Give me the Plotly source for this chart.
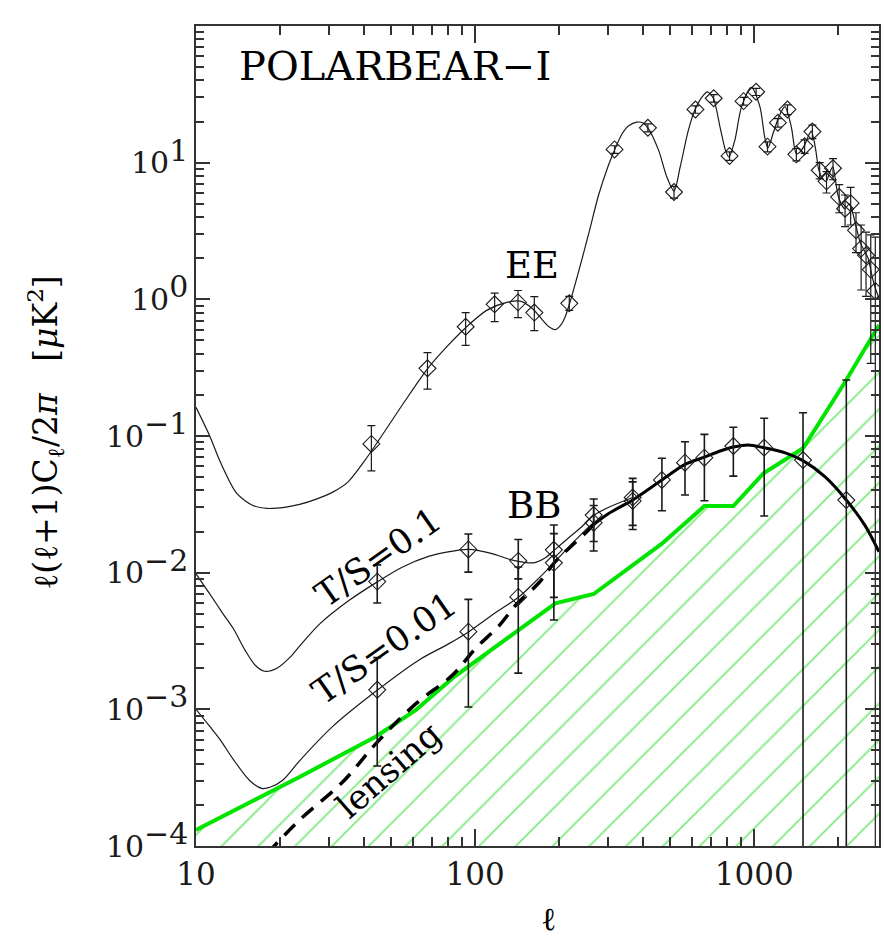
import math
import plotly.graph_objects as go

# ---------------- EE band powers (multipole, value, upper, lower) ----------------
ee_ell = [42.5, 67.5, 92.5, 117.5, 142.5, 163, 217.5, 316, 416, 516, 616, 716, 816,
          916, 1016, 1116, 1216, 1316, 1416, 1516, 1616, 1716, 1816, 1916, 2016, 2116,
          2216, 2316, 2416, 2516, 2616, 2716]
ee_val = [0.0875, 0.313, 0.63, 0.92, 0.95, 0.80, 0.935, 12.5, 18.0, 6.1, 24.5, 29.6, 11.2,
          28.2, 33.0, 13.1, 19.6, 24.5, 11.5, 13.2, 16.9, 8.8, 7.3, 9.1, 5.6, 4.6,
          5.05, 3.2, 2.35, 2.1, 1.65, 1.15]
ee_hi = [0.119, 0.407, 0.80, 1.11, 1.16, 1.045, 1.05, 13.3, 19.2, 6.7, 26.0, 31.5, 12.0,
         30.0, 35.0, 14.2, 21.0, 26.5, 12.7, 14.7, 18.8, 10.0, 8.6, 10.7, 6.9, 5.8,
         6.6, 4.3, 3.5, 3.1, 2.96, 2.85]
ee_lo = [0.0555, 0.22, 0.46, 0.686, 0.735, 0.59, 0.83, 11.7, 16.8, 5.5, 23.0, 27.7, 10.4,
         26.4, 31.0, 12.0, 18.2, 22.5, 10.3, 11.7, 15.0, 7.6, 6.0, 7.5, 4.3, 3.4,
         3.5, 2.2, 1.17, 1.05, 0.34, 0.0]

# ---------------- BB band powers ----------------
bb_lo_ell = [44.6, 94.6, 142.8, 191.5, 266, 367]
# T/S = 0.1 model
bb01_val = [0.0086, 0.0148, 0.0122, 0.0147, 0.0264, 0.0355]
bb01_hi = [0.0114, 0.0192, 0.0175, 0.0223, 0.0346, 0.049]
bb01_lo = [0.0060, 0.0101, 0.0090, 0.0066, 0.0169, 0.0222]
# T/S = 0.01 model
bb001_val = [0.00139, 0.0037, 0.00665, 0.0118, 0.0232, 0.0335]
bb001_hi = [0.00239, 0.00638, 0.0110, 0.0193, 0.031, 0.0462]
bb001_lo = [0.000385, 0.00104, 0.00184, 0.0045, 0.0144, 0.0207]
# lensing-dominated bins
bb_hi_ell = [467, 565, 663, 842, 1086, 1496, 2138]
bb_hi_val = [0.0477, 0.0638, 0.0694, 0.0845, 0.0822, 0.0667, 0.034]
bb_hi_hi = [0.0687, 0.0908, 0.1028, 0.116, 0.135, 0.148, 0.257]
bb_hi_lo = [0.0284, 0.037, 0.0336, 0.0509, 0.026, 0.0, 0.0]

# ---------------- model spectra ----------------
ee_th_ell = [10, 11.2, 12.2, 14, 16, 18, 21, 23.5, 27, 31, 35, 40, 45, 55, 67.5, 80, 92.5,
             110, 130, 145, 160, 170, 184, 194, 203, 210, 218, 235, 255, 277, 300, 316,
             336, 355, 380, 400, 416, 454, 486, 516, 543, 581, 614, 658, 680, 714, 754, 790,
             812, 853, 901, 977, 1048, 1090, 1120, 1169, 1230, 1288, 1358, 1416, 1460,
             1517, 1560, 1602, 1660, 1703, 1760, 1811, 1860, 1914, 1960, 1995, 2050,
             2109, 2195, 2260, 2320, 2400, 2500, 2560, 2650, 2720, 2800]
ee_th_val = [0.162, 0.10, 0.065, 0.038, 0.031, 0.0295, 0.0302, 0.0316, 0.0345, 0.039, 0.046,
             0.065, 0.092, 0.17, 0.31, 0.46, 0.62, 0.83, 0.95, 0.97, 0.86, 0.75, 0.63, 0.60,
             0.65, 0.74, 0.93, 1.6, 3.0, 5.8, 9.5, 12.4, 16.2, 18.6, 19.8, 19.5, 18.0, 12.4,
             7.9, 6.2, 9.3, 17.3, 24.5, 31.2, 33.0, 29.6, 18.3, 12.2, 11.0, 14.7, 25.7,
             35.6, 25.7, 15.5, 12.8, 16.4, 22.0, 25.7, 18.3, 11.6, 12.0, 13.5, 15.5,
             17.0, 12.5, 8.9, 7.6, 7.3, 8.4, 9.3, 7.2, 5.8, 5.0, 4.6, 5.0, 4.2, 3.4,
             2.6, 2.2, 2.0, 1.45, 1.2, 1.02]

bb01_th_ell = [10, 11.2, 12.5, 13.6, 15, 16.3, 17.6, 19.5, 21.7, 23.5, 27.7, 35.5, 44.8, 55,
               68.5, 80, 95, 115, 130, 143, 155, 165, 178, 191.5, 215, 240, 266, 300, 367]
bb01_th_val = [0.0098, 0.0070, 0.0050, 0.0039, 0.0027, 0.0021, 0.0019, 0.0020, 0.0024,
               0.0029, 0.0042, 0.0063, 0.0086, 0.011, 0.0132, 0.0142, 0.0148, 0.0138,
               0.0127, 0.0121, 0.0118, 0.0119, 0.0128, 0.0145, 0.0178, 0.0215, 0.0262,
               0.0300, 0.0355]

bb001_th_ell = [10, 11.2, 12.2, 13.6, 15.6, 17.2, 18.5, 20.5, 23.5, 30.9, 44.8, 63, 80, 95,
                120, 143, 170, 191.5, 230, 266, 300, 367]
bb001_th_val = [0.001, 0.00075, 0.0006, 0.00043, 0.0003, 0.000264, 0.00027, 0.000304,
                0.00042, 0.00075, 0.00139, 0.0023, 0.003, 0.0037, 0.0052, 0.0066, 0.0092,
                0.0118, 0.0175, 0.0232, 0.027, 0.0335]

lens_ell = [18, 23.5, 33.6, 44.2, 61.4, 83, 100.6, 122, 140, 169, 191.5, 220, 248, 266,
            300, 367, 467, 565, 663, 760, 842, 950, 1086, 1300, 1496, 1800, 2138, 2500, 2800]
lens_val = [0.000088, 0.000155, 0.000295, 0.000564, 0.0011, 0.00178, 0.0028, 0.0041,
            0.0058, 0.0084, 0.0117, 0.0155, 0.0194, 0.0225, 0.027, 0.034, 0.0477, 0.062,
            0.070, 0.078, 0.083, 0.086, 0.082, 0.075, 0.066, 0.050, 0.034, 0.022, 0.0142]
lens_split = 13  # dashed up to ell = 266, solid beyond

noise_ell = [10, 23.5, 44, 61.4, 83, 143, 194, 266, 467, 663, 842, 1080, 1496, 2138, 2800]
noise_val = [0.000131, 0.00032, 0.00063, 0.00099, 0.00169, 0.0038, 0.00597, 0.00698,
             0.0163, 0.0307, 0.0307, 0.0533, 0.0813, 0.257, 0.65]

# ---------------- styling ----------------
SERIF = "DejaVu Serif"
INK = "#1a1a1a"
AXIS = "#333333"
GREEN = "#00e400"
HATCH = "#1fd81f"


def err_arrays(val, hi, lo):
    return [h - v for v, h in zip(val, hi)], [v - l for v, l in zip(val, lo)]


fig = go.Figure()

# noise level with hatched region below it
fig.add_trace(go.Scatter(
    x=noise_ell, y=noise_val, mode="lines",
    line=dict(color=GREEN, width=4),
    fill="tozeroy", fillcolor="rgba(0,0,0,0)",
    fillpattern=dict(shape="/", size=26, solidity=0.075,
                     fgcolor=HATCH, bgcolor="rgba(0,0,0,0)"),
    hoverinfo="skip", showlegend=False))

# model curves
thin = dict(color=INK, width=1.2, shape="spline", smoothing=0.8)
fig.add_trace(go.Scatter(x=ee_th_ell, y=ee_th_val, mode="lines", line=thin, showlegend=False))
fig.add_trace(go.Scatter(x=bb01_th_ell, y=bb01_th_val, mode="lines", line=thin, showlegend=False))
fig.add_trace(go.Scatter(x=bb001_th_ell, y=bb001_th_val, mode="lines", line=thin, showlegend=False))
fig.add_trace(go.Scatter(x=lens_ell[:lens_split + 1], y=lens_val[:lens_split + 1], mode="lines",
                         line=dict(color="black", width=3.5, dash="15px,10px", shape="spline"),
                         showlegend=False))
fig.add_trace(go.Scatter(x=lens_ell[lens_split:], y=lens_val[lens_split:], mode="lines",
                         line=dict(color="black", width=3, shape="spline", smoothing=0.8),
                         showlegend=False))

# band powers
marker = dict(symbol="diamond-open", size=13, color=INK, line=dict(width=1.1, color=INK))
for ell, val, hi, lo, thick in [
        (ee_ell, ee_val, ee_hi, ee_lo, 1.2),
        (bb_lo_ell, bb01_val, bb01_hi, bb01_lo, 1.6),
        (bb_lo_ell, bb001_val, bb001_hi, bb001_lo, 1.6),
        (bb_hi_ell, bb_hi_val, bb_hi_hi, bb_hi_lo, 1.6)]:
    up, dn = err_arrays(val, hi, lo)
    fig.add_trace(go.Scatter(
        x=ell, y=val, mode="markers", marker=marker,
        error_y=dict(type="data", symmetric=False, array=up, arrayminus=dn,
                     color=INK, thickness=thick, width=4),
        showlegend=False))

# ---------------- axes ----------------
x_major = [10, 100, 1000]
y_exps = list(range(-4, 3))


def pow_label(k):
    exp = str(k).replace("-", "\u2212")
    return "10<sup><span style='font-size:30px'>%s</span></sup>" % exp


frame = dict(ticks="inside", tickwidth=1.5, tickcolor=AXIS,
             showline=True, linecolor=AXIS, linewidth=1.5, mirror="ticks",
             showgrid=False, zeroline=False)

fig.update_xaxes(type="log", range=[1, math.log10(2800)],
                 tickmode="array", tickvals=x_major, ticktext=[str(v) for v in x_major],
                 ticklen=17,
                 minor=dict(ticks="inside", dtick="D1", ticklen=9, tickwidth=1.5,
                            tickcolor=AXIS, showgrid=False),
                 tickfont=dict(family=SERIF, size=31, color=INK), **frame)
fig.update_yaxes(type="log", range=[-4, 2],
                 tickmode="array", tickvals=[10.0 ** k for k in y_exps],
                 ticktext=[pow_label(k) for k in y_exps],
                 ticklen=14,
                 minor=dict(ticks="inside", dtick="D1", ticklen=8, tickwidth=1.5,
                            tickcolor=AXIS, showgrid=False),
                 tickfont=dict(family=SERIF, size=30, color=INK), **frame)

# ---------------- labels ----------------
PX0, PX1, PY0, PY1 = 196, 881, 26, 846


def paper(px, py):
    return (px - PX0) / (PX1 - PX0), (PY1 - py) / (PY1 - PY0)


labels = [
    ("POLARBEAR\u2212I", 396, 66, 40, 0),
    ("EE", 533, 265, 37, 0),
    ("BB", 535, 505, 37, 0),
    ("T/S=0.1", 379, 557, 35, -35),
    ("T/S=0.01", 385, 648, 35, -35),
    ("lensing", 389, 770, 34, -41),
    ("\u2113", 550, 919, 32, 0),
    ("\u2113(\u2113+1)C<sub>\u2113</sub>/2<i>\u03c0</i>   [<i>\u03bc</i>K<sup>2</sup>]",
     45, 432, 33, -90),
]
for text, px, py, size, angle in labels:
    x, y = paper(px, py)
    fig.add_annotation(text=text, x=x, y=y, xref="paper", yref="paper",
                       xanchor="center", yanchor="middle", showarrow=False,
                       textangle=angle, font=dict(family=SERIF, size=size, color="black"))

fig.update_layout(width=884, height=940,
                  margin=dict(l=PX0, r=884 - PX1, t=PY0, b=940 - PY1),
                  plot_bgcolor="white", paper_bgcolor="white", showlegend=False)

fig.write_html("out.html")
